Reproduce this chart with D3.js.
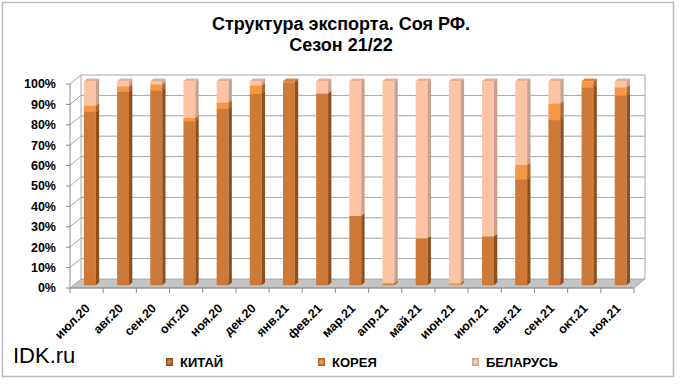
<!DOCTYPE html>
<html>
<head>
<meta charset="utf-8">
<script src="https://cdn.jsdelivr.net/npm/d3@7"></script>
<style>
  body { margin: 0; background: #fff; }
  svg { display: block; font-family: Arial, "Liberation Sans", sans-serif; }
</style>
</head>
<body>
<div id="container"></div>
<script>
const months = ['июл.20', 'авг.20', 'сен.20', 'окт.20', 'ноя.20', 'дек.20', 'янв.21', 'фев.21', 'мар.21',
  'апр.21', 'май.21', 'июн.21', 'июл.21', 'авг.21', 'сен.21', 'окт.21', 'ноя.21'];
const china   = [85, 95, 95.5, 80.5, 86.5, 94, 99.5, 94, 34, 0.5, 23, 0, 24, 52, 81, 97, 93];
const korea   = [3, 2.5, 3, 1.5, 3, 4, 0.5, 0, 0, 0.5, 0, 1, 0, 7, 8, 3, 4];
const belarus = [12, 2.5, 1.5, 18, 10.5, 2, 0, 6, 66, 99, 77, 99, 76, 41, 11, 0, 3];
const seriesNames = ['КИТАЙ', 'КОРЕЯ', 'БЕЛАРУСЬ'];
const yTicks = [0, 10, 20, 30, 40, 50, 60, 70, 80, 90, 100];

const width = 680, height = 384;
const depthX = 11, depthY = -9;

const rows = months.map((m, i) => ({ month: m, c: china[i], k: korea[i], b: belarus[i] }));
const stack = d3.stack().keys(['c', 'k', 'b'])(rows);

const colors = {
  c: { front: '#cd7a38', side: '#8e4e1d', top: '#b56a30' },
  k: { front: '#f79646', side: '#b1632a', top: '#e0843c' },
  b: { front: '#fcc4a4', side: '#c9a08a', top: '#e4b096' }
};

const x = d3.scaleBand().domain(months).range([70, 634]).paddingInner(0).paddingOuter(0);
const y = d3.scaleLinear().domain([0, 100]).range([288, 84]);

const svg = d3.select('#container').append('svg')
  .attr('width', width).attr('height', height);

// gradient for legend markers
const defs = svg.append('defs');
['c', 'k', 'b'].forEach(k => {
  const g = defs.append('radialGradient').attr('id', 'lg-' + k);
  g.append('stop').attr('offset', '0%').attr('stop-color', d3.color(colors[k].front).brighter(0.5));
  g.append('stop').attr('offset', '100%').attr('stop-color', colors[k].side);
});

// outer frame
svg.append('rect')
  .attr('x', 2.5).attr('y', 2.5).attr('width', 671).attr('height', 374)
  .attr('fill', '#fff').attr('stroke', '#bcbcbc').attr('stroke-width', 1.5);

// title
const title = svg.append('text').attr('text-anchor', 'middle')
  .attr('font-weight', 'bold').attr('font-size', 18).attr('fill', '#000');
title.append('tspan').attr('x', 341).attr('y', 29.5).text('Структура экспорта. Соя РФ.');
title.append('tspan').attr('x', 341).attr('y', 51).text('Сезон 21/22');

const x0 = x.range()[0], x1 = x.range()[1];

// floor
svg.append('path')
  .attr('d', `M${x0},${y(0)} L${x1},${y(0)} L${x1 + depthX},${y(0) + depthY} L${x0 + depthX},${y(0) + depthY} Z`)
  .attr('fill', '#c4c4c4').attr('stroke', '#a0a0a0').attr('stroke-width', 0.8);

// side wall and back wall gridlines
const grid = svg.append('g').attr('stroke', '#a6a6a6').attr('stroke-width', 1).attr('fill', 'none');
yTicks.forEach(t => {
  if (t === 0) return;
  grid.append('path')
    .attr('d', `M${x0},${y(t)} L${x0 + depthX},${y(t) + depthY} L${x1 + depthX},${y(t) + depthY}`);
});
grid.append('path')
  .attr('d', `M${x0 + depthX},${y(0) + depthY} L${x0 + depthX},${y(100) + depthY}`);
grid.append('path')
  .attr('d', `M${x1 + depthX},${y(0) + depthY} L${x1 + depthX},${y(100) + depthY}`);

// bars
const barW = x.bandwidth() * 0.36;
const f0 = 0.3, f1 = 0.6;
const bdx = depthX * (f1 - f0), bdy = depthY * (f1 - f0);
const barsG = svg.append('g');
stack.forEach(layer => {
  const col = colors[layer.key];
  layer.forEach((d, i) => {
    const h = d[1] - d[0];
    if (h <= 0) return;
    const left = x(months[i]) + x.bandwidth() / 2 - barW / 2 + depthX * f0;
    const right = left + barW;
    const top = y(d[1]) + depthY * f0;
    const bottom = y(d[0]) + depthY * f0;
    barsG.append('rect')
      .attr('x', left).attr('y', top).attr('width', barW).attr('height', bottom - top)
      .attr('fill', col.front);
    barsG.append('path')
      .attr('d', `M${right},${top} L${right + bdx},${top + bdy} L${right + bdx},${bottom + bdy} L${right},${bottom} Z`)
      .attr('fill', col.side);
    barsG.append('path')
      .attr('d', `M${left},${top} L${left + bdx},${top + bdy} L${right + bdx},${top + bdy} L${right},${top} Z`)
      .attr('fill', col.top);
  });
});

// front axes
const axes = svg.append('g').attr('stroke', '#8c8c8c').attr('stroke-width', 1);
axes.append('line').attr('x1', x0).attr('x2', x0).attr('y1', y(0)).attr('y2', y(100));
axes.append('line').attr('x1', x0).attr('x2', x1).attr('y1', y(0)).attr('y2', y(0));
yTicks.forEach(t => {
  axes.append('line').attr('x1', x0 - 4).attr('x2', x0).attr('y1', y(t)).attr('y2', y(t));
});
months.forEach(m => {
  axes.append('line').attr('x1', x(m)).attr('x2', x(m)).attr('y1', y(0)).attr('y2', y(0) + 5);
});
axes.append('line').attr('x1', x1).attr('x2', x1).attr('y1', y(0)).attr('y2', y(0) + 5);

// y labels
svg.append('g').selectAll('text').data(yTicks).enter().append('text')
  .attr('x', 56).attr('y', d => y(d)).attr('dy', '0.35em')
  .attr('text-anchor', 'end').attr('font-weight', 'bold').attr('font-size', 12.5)
  .text(d => d + '%');

// x labels
svg.append('g').selectAll('text').data(months).enter().append('text')
  .attr('transform', d => `translate(${x(d) + x.bandwidth() / 2 + 1},${y(0) + 18}) rotate(-45)`)
  .attr('text-anchor', 'end').attr('dy', '0.35em')
  .attr('font-weight', 'bold').attr('font-size', 12.5)
  .text(d => d);

// watermark
svg.append('text').attr('x', 13).attr('y', 363).attr('font-size', 22).text('IDK.ru');

// legend
const legendX = [166, 318, 472];
const legend = svg.append('g');
['c', 'k', 'b'].forEach((k, i) => {
  const g = legend.append('g').attr('transform', `translate(${legendX[i]},358)`);
  g.append('rect').attr('x', 0).attr('y', 0).attr('width', 7).attr('height', 8)
    .attr('fill', `url(#lg-${k})`);
  g.append('text').attr('x', 14).attr('y', 9)
    .attr('font-size', 13).attr('font-weight', 'bold')
    .attr('font-family', '"Liberation Sans Narrow", Arial, sans-serif')
    .text(seriesNames[i]);
});
</script>
</body>
</html>
